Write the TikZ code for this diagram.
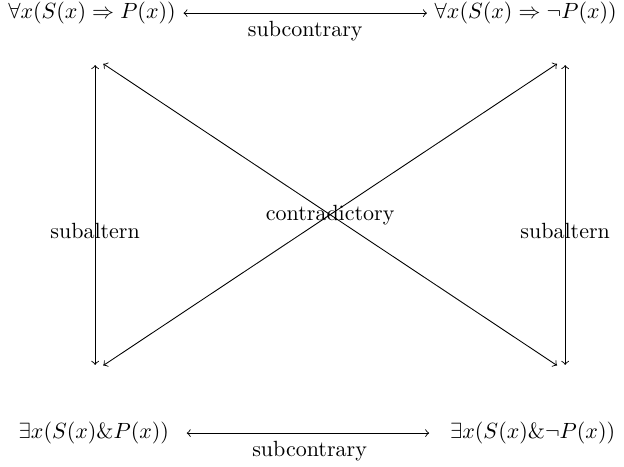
\documentclass[tikz,border=0pt]{standalone}
\usepackage{amsmath}
\usepackage{amssymb}
\usetikzlibrary{positioning}

\begin{document}
\begin{tikzpicture}[
    rel/.style={<->},
    every node/.style={font=\normalsize}
]
\useasboundingbox (0,0) rectangle (9.97,7.46);

% Propositions
\node (A) at (1.47,7.25) {$\forall x(S(x)\Rightarrow P(x))$};
\node (B) at (8.40,7.25) {$\forall x(S(x)\Rightarrow \neg P(x))$};
\node (C) at (1.50,0.54) {$\exists x(S(x)\&P(x))$};
\node (D) at (8.51,0.54) {$\exists x(S(x)\&\neg P(x))$};

% Extremites des fleches
\coordinate (lt) at (1.52,6.42);
\coordinate (lb) at (1.52,1.63);
\coordinate (rt) at (9.03,6.42);
\coordinate (rb) at (9.03,1.63);
\coordinate (dlt) at (1.65,6.44);
\coordinate (dlb) at (1.65,1.62);
\coordinate (drt) at (8.90,6.44);
\coordinate (drb) at (8.90,1.62);

% Relations
\draw[rel] (A) -- node[below]{subcontrary} (B);
\draw[rel, shorten <=4.5pt, shorten >=6pt] (C) -- node[below]{subcontrary} (D);
\draw[rel] (lt) -- node[below]{subaltern} (lb);
\draw[rel] (rt) -- node[below]{subaltern} (rb);
\draw[rel] (dlt) -- node{contradictory} (drb);
\draw[rel] (dlb) -- (drt);

\end{tikzpicture}
\end{document}
